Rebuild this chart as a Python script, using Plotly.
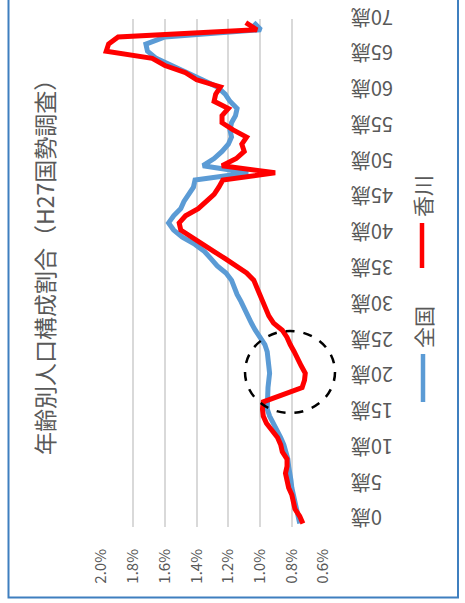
import plotly.graph_objects as go

ages = list(range(0, 71))
zenkoku = [0.75, 0.76, 0.775, 0.785, 0.79, 0.80, 0.805, 0.815, 0.82, 0.825,
           0.835, 0.85, 0.87, 0.895, 0.92, 0.94, 0.955, 0.955, 0.95, 0.95,
           0.945, 0.94, 0.945, 0.95, 0.955, 0.97, 1.005, 1.03, 1.055, 1.075,
           1.095, 1.12, 1.145, 1.165, 1.18, 1.215, 1.27, 1.31, 1.35, 1.41,
           1.49, 1.545, 1.577, 1.545, 1.50, 1.48, 1.45, 1.42, 1.41, 1.075,
           1.36, 1.29, 1.24, 1.20, 1.18, 1.19, 1.18, 1.155, 1.145, 1.19,
           1.22, 1.27, 1.365, 1.46, 1.565, 1.655, 1.71, 1.72, 1.60, 0.995,
           1.04]
kagawa = [0.73, 0.75, 0.78, 0.79, 0.80, 0.82, 0.83, 0.84, 0.83, 0.83,
          0.86, 0.87, 0.89, 0.925, 0.96, 0.98, 0.985, 0.98, 0.86, 0.735,
          0.72, 0.715, 0.74, 0.76, 0.785, 0.81, 0.83, 0.86, 0.915, 0.945,
          0.965, 0.985, 1.005, 1.02, 1.04, 1.085, 1.16, 1.22, 1.29, 1.36,
          1.43, 1.50, 1.51, 1.47, 1.39, 1.34, 1.29, 1.26, 1.235, 0.905,
          1.24, 1.15, 1.10, 1.115, 1.085, 1.17, 1.24, 1.24, 1.20, 1.29,
          1.28, 1.25, 1.40, 1.47, 1.60, 1.68, 1.97, 1.955, 1.895, 1.02,
          1.09]
age_ticks = list(range(0, 71, 5))
age_labels = [("\u2007" if a < 10 else "") + f"{a}歳" for a in age_ticks]
pct_ticks = [2.0, 1.8, 1.6, 1.4, 1.2, 1.0, 0.8, 0.6]
pct_labels = [f"{v:.1f}%" for v in pct_ticks]
title_text = "年齢別人口構成割合（H27国勢調査）"
series_names = ["全国", "香川"]
colors = ["#5B9BD5", "#FF0000"]

FONT = "Noto Sans CJK JP"
GRAY = "#595959"

W, H = 465, 603
L, R, T, B = 101, 141, 19, 76
pw, ph = W - L - R, H - T - B


def px(xp):
    return (xp - L) / pw


def py(yp):
    return (H - B - yp) / ph


fig = go.Figure()
for name, vals, col in zip(series_names, [zenkoku, kagawa], colors):
    fig.add_trace(go.Scatter(x=vals, y=ages, mode="lines", name=name,
                             line=dict(color=col, width=5), hoverinfo="skip"))

fig.update_layout(
    width=W, height=H,
    margin=dict(l=L, r=R, t=T, b=B),
    plot_bgcolor="white", paper_bgcolor="white",
    showlegend=False,
    font=dict(family=FONT, color=GRAY),
    xaxis=dict(range=[2.003, 0.597], tickvals=pct_ticks, ticktext=pct_labels,
               tickangle=-90, showgrid=True, gridcolor="#D9D9D9", gridwidth=1.5,
               zeroline=False, showline=False, ticks="",
               tickfont=dict(size=15, color=GRAY, family=FONT),
               ticklabelstandoff=18, automargin=False),
    yaxis=dict(range=[-0.5, 70.5], tickvals=age_ticks, ticktext=age_labels,
               side="right", tickangle=180, showgrid=False, zeroline=False,
               showline=False, ticks="",
               tickfont=dict(size=20, color=GRAY, family=FONT),
               ticklabelstandoff=68, automargin=False),
)

shapes = []
# border
shapes.append(dict(type="rect", xref="paper", yref="paper",
                   x0=px(8.5), x1=px(458), y0=py(597.5), y1=py(-5),
                   line=dict(color="#3F7FBF", width=2), fillcolor="rgba(0,0,0,0)"))
# dashed circle
shapes.append(dict(type="circle", xref="paper", yref="paper",
                   x0=px(245), x1=px(335), y0=py(413), y1=py(331),
                   line=dict(color="black", width=2.5, dash="dash")))
# legend lines
shapes.append(dict(type="line", xref="paper", yref="paper",
                   x0=px(423), x1=px(423), y0=py(402), y1=py(354),
                   line=dict(color=colors[0], width=4.5)))
shapes.append(dict(type="line", xref="paper", yref="paper",
                   x0=px(422), x1=px(422), y0=py(268), y1=py(223),
                   line=dict(color=colors[1], width=4.5)))
fig.update_layout(shapes=shapes)

annotations = [
    dict(text=title_text, xref="paper", yref="paper", x=px(44), y=py(262),
         showarrow=False, textangle=-90, font=dict(size=23, color=GRAY, family=FONT),
         xanchor="center", yanchor="middle"),
    dict(text=series_names[0], xref="paper", yref="paper", x=px(423), y=py(327),
         showarrow=False, textangle=-90, font=dict(size=21, color=GRAY, family=FONT),
         xanchor="center", yanchor="middle"),
    dict(text=series_names[1], xref="paper", yref="paper", x=px(422), y=py(196),
         showarrow=False, textangle=-90, font=dict(size=21, color=GRAY, family=FONT),
         xanchor="center", yanchor="middle"),
]
fig.update_layout(annotations=annotations)

fig.write_html("out.html", config={"displayModeBar": False},
               post_script="document.body.style.margin='0';")
